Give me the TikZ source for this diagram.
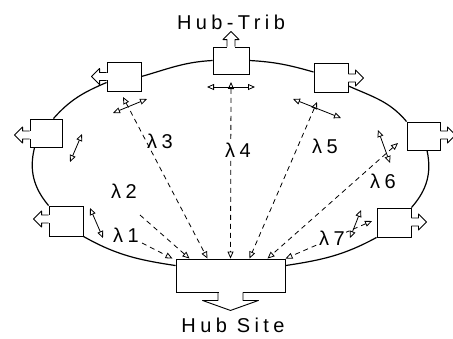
\documentclass[tikz,border=0pt]{standalone}
\usepackage{fontspec}
\setmainfont{Liberation Sans}
\newfontfamily\labfont{Liberation Sans}[LetterSpace=22]
\usetikzlibrary{arrows.meta,calc}
\begin{document}
\begin{tikzpicture}[x=1pt,y=1pt,
  box/.style={draw, line width=0.9pt, fill=white, inner sep=0pt},
  ring/.style={line width=1.2pt},
  wl/.style={line width=0.8pt, dash pattern=on 5pt off 4pt, -{Triangle[open,length=7pt,width=6pt]}},
  wlb/.style={line width=0.8pt, dash pattern=on 5pt off 4pt, {Triangle[open,length=7pt,width=6pt]}-{Triangle[open,length=7pt,width=6pt]}},
  dbl/.style={line width=0.8pt, {Triangle[open,length=7pt,width=6pt]}-{Triangle[open,length=7pt,width=6pt]}},
  lab/.style={font=\labfont\fontsize{20}{23}\selectfont, inner sep=1pt},
  outarrow/.pic={
    \fill[white] (-1,-3.6) rectangle (1,3.6);
    \draw[line width=0.9pt, line join=round] (0,-4) -- (7,-4) -- (7,-8) -- (15,0) -- (7,8) -- (7,4) -- (0,4);
  },
  hubarrow/.pic={
    \fill[white] (-1,-12) rectangle (1,12);
    \draw[line width=0.9pt, line join=round] (0,-12.5) -- (8,-12.5) -- (8,-28) -- (18,0) -- (8,28) -- (8,12.5) -- (0,12.5);
  }
]
\useasboundingbox (0,0) rectangle (453,-338);

% boxes
\node[box, minimum width=36pt, minimum height=27pt] (tc) at (231,-60.5) {};
\node[box, minimum width=34pt, minimum height=29pt] (tl) at (124,-76.5) {};
\node[box, minimum width=32pt, minimum height=28pt] (l) at (46,-133) {};
\node[box, minimum width=34pt, minimum height=30pt] (ll) at (66,-221) {};
\node[box, minimum width=34pt, minimum height=29pt] (tr) at (331,-77.5) {};
\node[box, minimum width=33pt, minimum height=28pt] (r) at (423.5,-136) {};
\node[box, minimum width=34pt, minimum height=29pt] (lr) at (394,-222.5) {};
\node[box, minimum width=109pt, minimum height=33pt] (hub) at (230.5,-275.5) {};

% ring
\draw[ring] (tc.west) to[out=183,in=16] (tl.east);
\draw[ring] ($(tl.west)+(0,-6)$) to[out=203,in=48.5] ($(l.north east)+(-9,0)$);
\draw[ring] ($(l.south west)+(5,0)$) to[out=-104,in=130] (ll.north west);
\draw[ring] (ll.south east) to[out=-29.5,in=171.4] ($(hub.north west)+(0,-7)$);
\draw[ring] ($(hub.north east)+(0,-7)$) to[out=8.6,in=208.6] (lr.south west);
\draw[ring] (lr.north east) to[out=48.5,in=-77.7] ($(r.south)+(3.5,0)$);
\draw[ring] (r.north west) to[out=130,in=-24] ($(tr.east)+(0,-8.5)$);
\draw[ring] ($(tr.west)+(0,5.5)$) to[out=164,in=-3.2] (tc.east);

% outward block arrows
\pic[rotate=90] at (tc.north) {outarrow};
\pic[rotate=180] at (tl.west) {outarrow};
\pic[rotate=180] at ($(l.west)+(0,-2)$) {outarrow};
\pic[rotate=180] at ($(ll.west)+(0,2)$) {outarrow};
\pic at ($(tr.east)+(0,-0.5)$) {outarrow};
\pic at ($(r.east)+(0,1)$) {outarrow};
\pic at ($(lr.east)+(0,0.5)$) {outarrow};
\pic[rotate=-90] at (hub.south) {hubarrow};

% add/drop double arrows
\draw[dbl] (113,-113) -- (147,-99);
\draw[dbl] (70,-162) -- (82,-134);
\draw[dbl] (90,-208) -- (103,-238);
\draw[dbl] (207,-87) -- (255,-87);
\draw[dbl] (293,-99) -- (341,-118);
\draw[dbl] (378,-130) -- (390,-163);
\draw[dbl] (361,-210) -- (350,-238);

% wavelength paths
\coordinate (s1) at (142,-243);
\coordinate (s2) at (140,-215);
\coordinate (s3) at (123,-97);
\coordinate (s4) at (231,-82);
\coordinate (s5) at (317,-102);
\coordinate (s6) at (398,-143);
\coordinate (s7) at (372,-221);
\draw[wl] (s1) -- ($(hub.north)+(-58,0)$);
\draw[wl] (s2) -- ($(hub.north)+(-41,0)$);
\draw[wlb] (s3) -- ($(hub.north)+(-23,0)$);
\draw[wlb] (s4) -- (hub.north);
\draw[wlb] (s5) -- ($(hub.north)+(19,0)$);
\draw[wlb] (s6) -- ($(hub.north)+(37,0)$);
\draw[wlb] (s7) -- ($(hub.north)+(55,0)$);

% labels
\node[lab] (hubtrib) at (231,-22) {Hub-Trib};
\node[lab] (hubsite) at (233,-325) {Hub Site};
\node[lab] (L1) at (126,-235) {λ1};
\node[lab] (L2) at (124,-191) {λ2};
\node[lab] (L3) at (160,-141) {λ3};
\node[lab, fill=white] (L4) at (238,-150) {λ4};
\node[lab] (L5) at (325,-146) {λ5};
\node[lab] (L6) at (383,-181) {λ6};
\node[lab, fill=white] (L7) at (332,-238) {λ7};
\end{tikzpicture}
\end{document}
